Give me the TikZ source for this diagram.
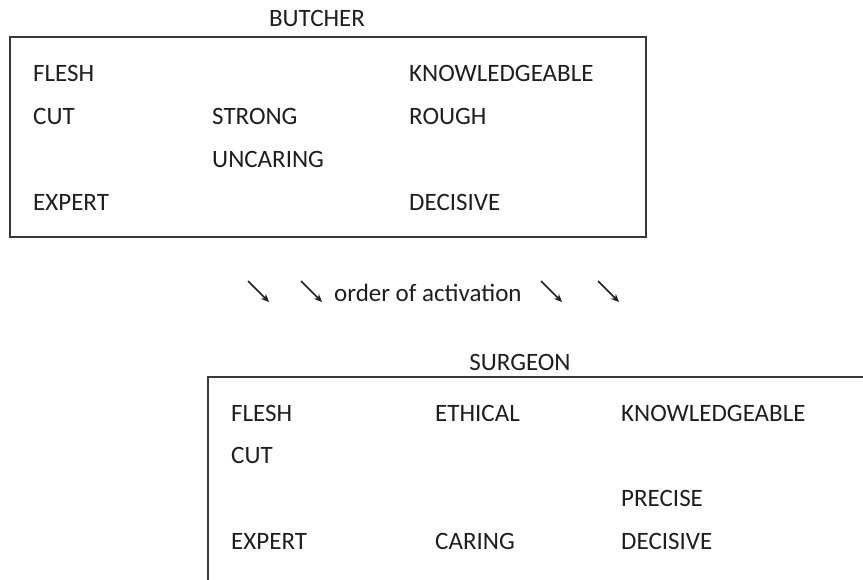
\documentclass[tikz,border=0pt]{standalone}
\usepackage{fontspec}
\setmainfont{Carlito}
\usetikzlibrary{arrows.meta}
\definecolor{txt}{HTML}{1E1E1E}
\definecolor{frame}{HTML}{3A3A3A}
\tikzset{
  word/.style={anchor=base west, inner sep=0pt, text=txt, font=\fontsize{25}{27}\selectfont},
  title/.style={anchor=base, inner sep=0pt, text=txt, font=\fontsize{25}{27}\selectfont},
  boxline/.style={draw=frame, line width=1.8pt},
  act/.style={draw=txt, line width=1.6pt, -{Stealth[length=8pt,width=7pt]}}
}
\begin{document}
\begin{tikzpicture}[x=1pt,y=-1pt]
\useasboundingbox (0,0) rectangle (863,579);
% Butcher
\node[title] (bt) at (317,26) {BUTCHER};
\draw[boxline] (10,37) rectangle (646,237);
\node[word] (b1) at (33,81) {FLESH};
\node[word] (b2) at (33,124) {CUT};
\node[word] (b3) at (212,124) {STRONG};
\node[word] (b4) at (212,167) {UNCARING};
\node[word] (b5) at (33,210) {EXPERT};
\node[word] (b6) at (409,81) {KNOWLEDGEABLE};
\node[word] (b7) at (409,124) {ROUGH};
\node[word] (b8) at (409,210) {DECISIVE};
% arrows
\coordinate (a1s) at (248,281); \coordinate (a1e) at (269,302);
\coordinate (a2s) at (301,281); \coordinate (a2e) at (322,302);
\coordinate (a3s) at (541,281); \coordinate (a3e) at (562,302);
\coordinate (a4s) at (598,281); \coordinate (a4e) at (619,302);
\draw[act] (a1s) -- (a1e);
\draw[act] (a2s) -- (a2e);
\node[word] (oa) at (334,301) {order of activation};
\draw[act] (a3s) -- (a3e);
\draw[act] (a4s) -- (a4e);
% Surgeon
\node[title] (st) at (520,370) {SURGEON};
\draw[boxline] (208,580) -- (208,377) -- (864,377);
\node[word] (s1) at (231,421) {FLESH};
\node[word] (s2) at (231,463) {CUT};
\node[word] (s3) at (231,549) {EXPERT};
\node[word] (s4) at (435,421) {ETHICAL};
\node[word] (s5) at (435,549) {CARING};
\node[word] (s6) at (621,421) {KNOWLEDGEABLE};
\node[word] (s7) at (621,506) {PRECISE};
\node[word] (s8) at (621,549) {DECISIVE};
\end{tikzpicture}
\end{document}
